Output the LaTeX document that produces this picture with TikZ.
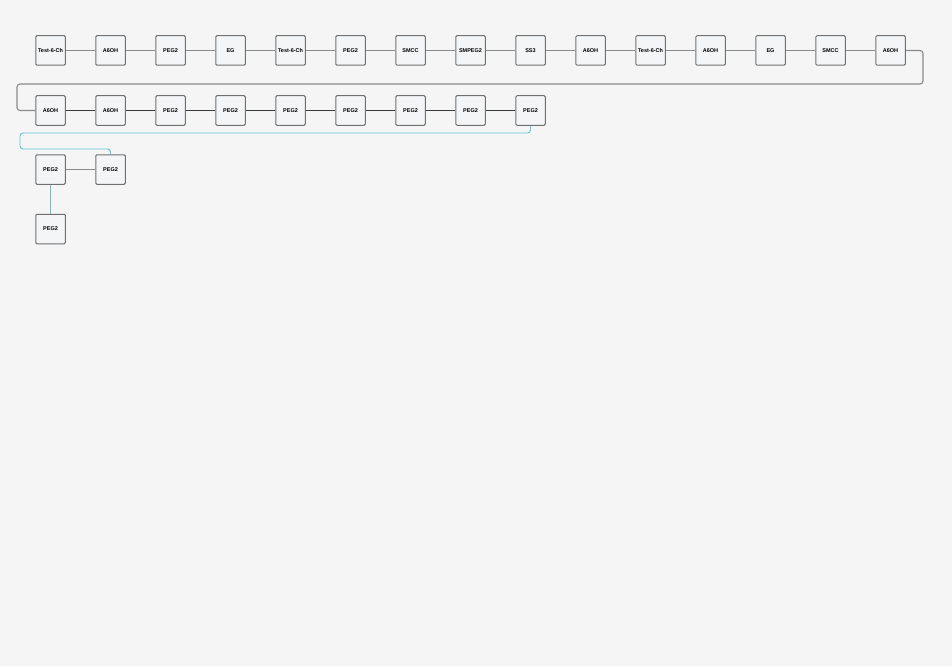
\documentclass[tikz,border=0pt]{standalone}
\usepackage{fontspec}
\setmainfont{Liberation Sans}
\definecolor{bgcol}{HTML}{F5F5F5}
\definecolor{boxfill}{HTML}{F4F5F7}
\definecolor{boxline}{HTML}{707070}
\definecolor{linkgray}{HTML}{8A8A8A}
\definecolor{linkdark}{HTML}{3A3A3A}
\definecolor{linkcyan}{HTML}{5FC3D0}
\begin{document}
\begin{tikzpicture}[x=1pt,y=-1pt,
  unit/.style={draw=boxline,fill=boxfill,line width=1pt,rounded corners=1.2pt,
    minimum size=29.5pt,inner sep=0pt,font=\bfseries\fontsize{5.5}{6}\selectfont},
  link/.style={draw=linkgray,line width=1.1pt},
  darklink/.style={draw=linkdark,line width=0.8pt},
  cyanlink/.style={draw=linkcyan,line width=0.9pt,rounded corners=3pt}]
\fill[bgcol] (0,0) rectangle (952,666);
\useasboundingbox (0,0) rectangle (952,666);
% first row
\foreach \lab [count=\i] in {Test-6-Ch,A6OH,PEG2,EG,Test-6-Ch,PEG2,SMCC,SMPEG2,SS3,A6OH,Test-6-Ch,A6OH,EG,SMCC,A6OH}
  \node[unit] (a\i) at ({50.5+60*(\i-1)},50.5) {\lab};
\foreach \i in {1,...,14} {
  \pgfmathtruncatemacro\j{\i+1}
  \draw[link] (a\i) -- (a\j);
}
% second row
\foreach \lab [count=\i] in {A6OH,A6OH,PEG2,PEG2,PEG2,PEG2,PEG2,PEG2,PEG2}
  \node[unit] (b\i) at ({50.5+60*(\i-1)},110.5) {\lab};
\foreach \i in {1,...,8} {
  \pgfmathtruncatemacro\j{\i+1}
  \draw[darklink] (b\i) -- (b\j);
}
\draw[link,rounded corners=3pt] (a15.east) -| (923,84) -| (17,110.5) -- (b1.west);
% branch
\node[unit] (c1) at (50.5,169.5) {PEG2};
\node[unit] (c2) at (110.5,169.5) {PEG2};
\node[unit] (d1) at (50.5,229) {PEG2};
\draw[cyanlink] (b9.south) |- (20,133) |- (110.5,149) -- (c2.north);
\draw[link] (c1) -- (c2);
\draw[cyanlink] (c1) -- (d1);
\end{tikzpicture}
\end{document}
